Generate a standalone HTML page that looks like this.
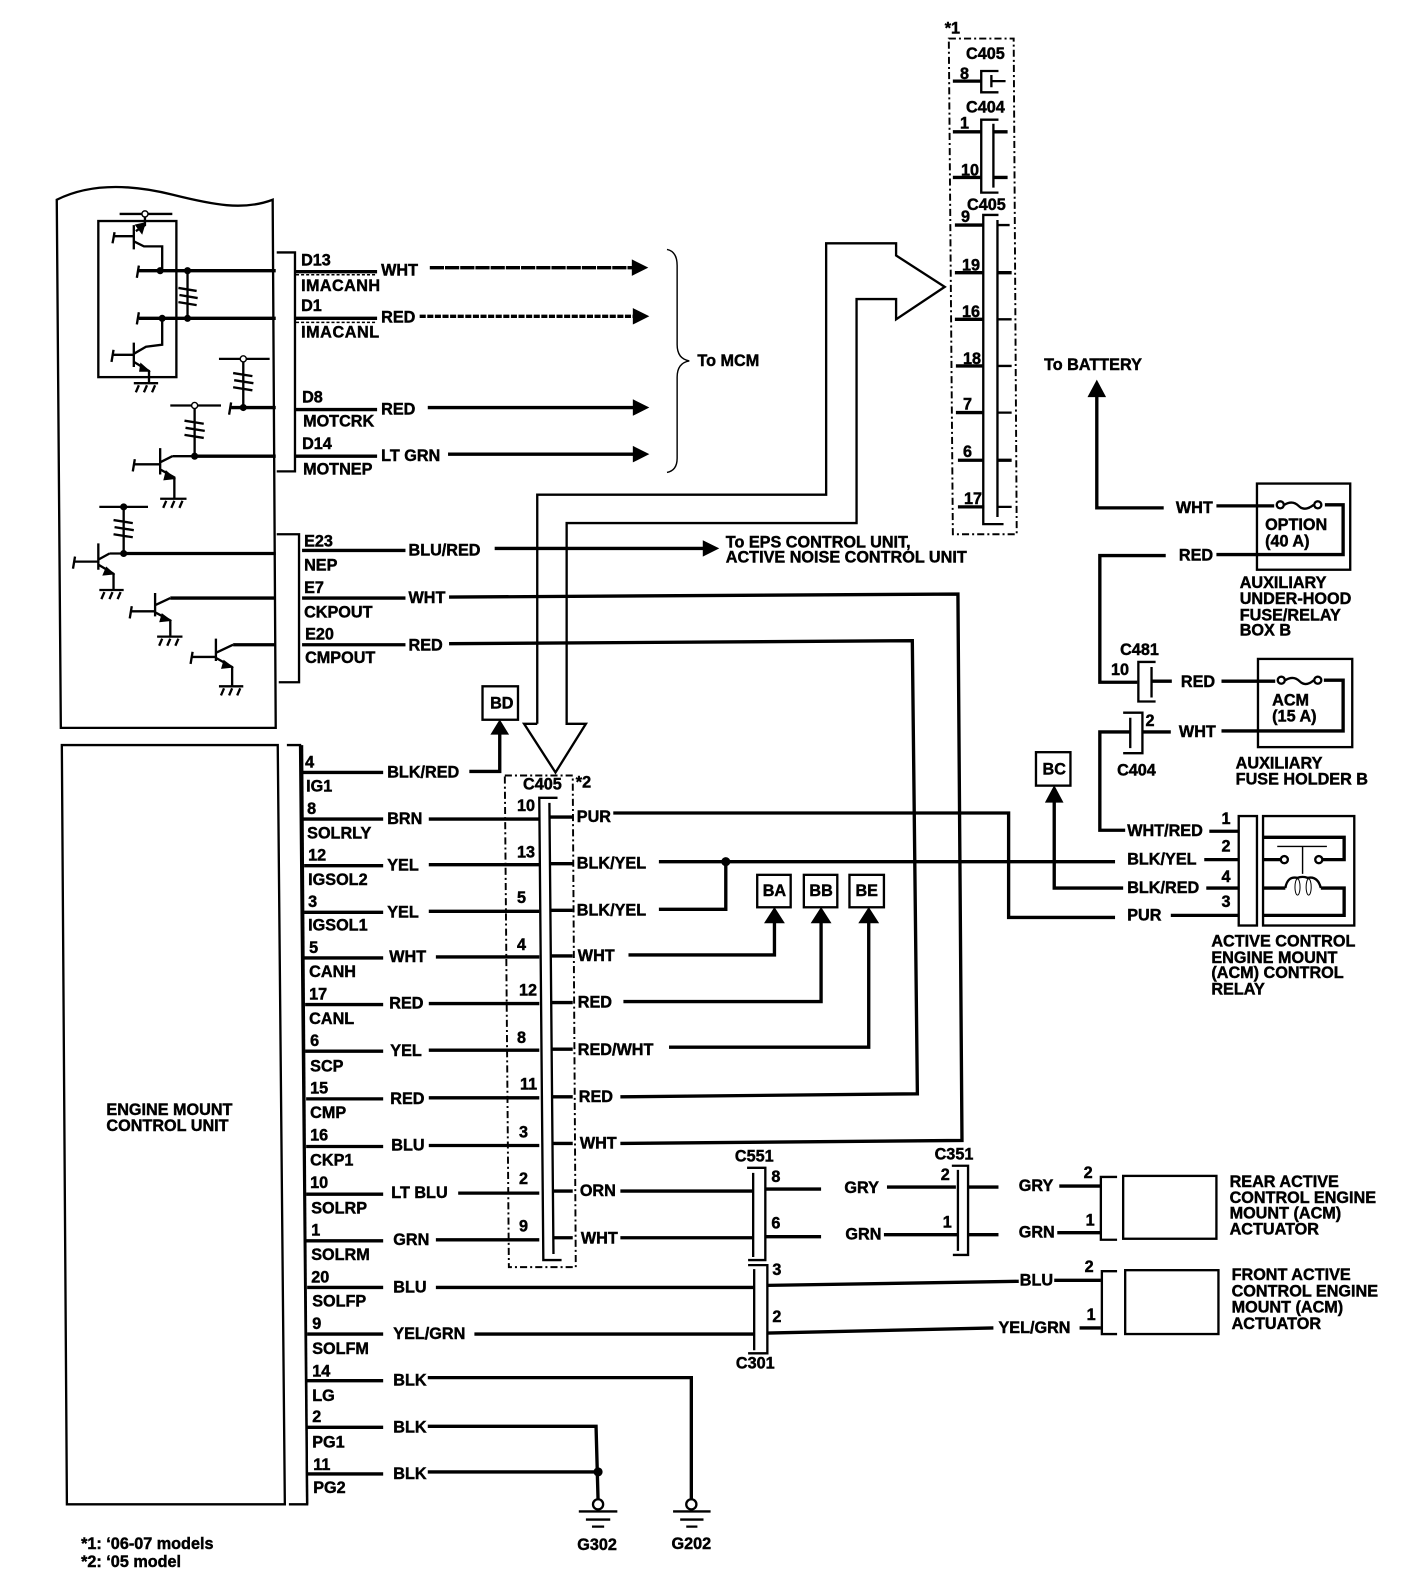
<!DOCTYPE html>
<html><head><meta charset="utf-8"><style>
html,body{margin:0;padding:0;background:#fff}
svg{display:block}
text{font-family:"Liberation Sans",sans-serif;font-weight:700;font-size:16px;fill:#000;stroke:#000;stroke-width:.45;dominant-baseline:central}
.m{text-anchor:middle}
path,rect,circle{fill:none;stroke:#000}
.t1{stroke-width:1.4}.t2{stroke-width:2.3}.t3{stroke-width:3.3}
.d{stroke-width:1.9;stroke-dasharray:7 3 2 3}
.f{fill:#000}.w{fill:#fff}
</style></head><body>
<svg width="1408" height="1588" viewBox="0 0 1389 1566.5" xmlns="http://www.w3.org/2000/svg">
<!-- module panels -->
<path class="t2" d="M56,197C90,180 130,182 170,192S240,208 269,197L272,718H60L56,197Z"/>
<path class="t2" d="M61,735H274L281,1484H66Z"/>
<path class="t2" d="M273,249H291V465H273M273,527H295V673H275M283,735H296L303,1484H285"/>
<!-- inner circuit -->
<rect class="t2" x="97" y="218" width="77" height="154"/>
<path class="t2" d="M118,211H170M143,214V222L134,228M132,222V246M113,233H132M132,238L142,243H160V267M160,314V340L144,342L132,349M132,338V362M112,350H132M132,357L147,366V378M132,378H156M137,380L134,387M145,380L142,387M153,380L150,387M113,229Q112,235 111,240M137,262Q136,268 135,274M137,308Q136,314 135,320M112,345Q111,351 110,357"/>
<path class="t3" d="M137,267H272M137,314H272M228,402H272M192,450H272M122,546H272M168,590H272M230,636H272"/>
<path class="t2" d="M185,267V314M176,284L194,287M177,291L195,294M176,298L194,301"/>
<circle class="w t1" cx="143" cy="211" r="3"/>
<circle class="f" cx="158" cy="267" r="3"/><circle class="f" cx="185" cy="267" r="3"/><circle class="f" cx="160" cy="314" r="3"/><circle class="f" cx="185" cy="314" r="3"/>
<path class="t2" d="M216,354H266M240,357V402M230,368L249,371M231,375L250,378M230,382L249,385M228,397Q227,403 226,409"/>
<circle class="w t1" cx="240" cy="354" r="3"/><circle class="f" cx="240" cy="402" r="3"/>
<path class="t2" d="M168,400H218M192,403V450M182,415L201,418M183,422L202,425M182,429L201,432M170,450H192M170,450L158,456M158,442V468M133,458H158M133,453Q132,459 131,465M158,463L172,471V492M158,492H184M164,494L161,501M172,494L169,501M180,494L177,501"/>
<circle class="w t1" cx="192" cy="400" r="3"/><circle class="f" cx="192" cy="450" r="3"/>
<path class="t2" d="M98,500H146M122,500V546M112,513L131,516M113,520L132,523M112,527L131,530M108,546H122M108,546L97,552M97,536V562M74,554H97M74,549Q73,555 72,561M97,557L112,566V582M98,582H122M103,584L100,591M111,584L108,591M119,584L116,591"/>
<circle class="f" cx="122" cy="500" r="3"/><circle class="f" cx="122" cy="546" r="3"/>
<path class="t2" d="M168,590L153,597M153,585V608M130,603H153M130,598Q129,604 128,610M153,604L168,612V628M155,628H180M160,630L157,637M168,630L165,637M176,630L173,637"/>
<path class="t2" d="M230,636L213,644M213,630V652M190,648H213M190,643Q189,649 188,655M213,649L229,658V677M216,677H240M221,679L218,686M229,679L226,686M237,679L234,686"/>
<path class="f t1" d="M134,222L143,220L140,230ZM139,359L147,366L138,366ZM164,465L172,472L162,473ZM105,560L112,566L102,567ZM160,606L168,612L158,613ZM221,652L229,658L219,659Z"/>
<!-- top wires -->
<path class="t3" d="M292,268H372M292,314H372M292,404H372M292,450H372"/>
<path class="t1" d="M292,271H372" stroke-dasharray="3 2"/>
<path class="t1" d="M292,318H372" stroke-dasharray="3 2"/>
<path class="t3" d="M424,264H625" stroke-dasharray="14 1"/>
<path class="t3" d="M414,312H625" stroke-dasharray="6 1.5"/>
<path class="t3" d="M422,402H625M442,448H628"/>
<path class="f t1" d="M624,257L638,264L624,271ZM625,305L639,312L625,319ZM625,395L639,402L625,409ZM625,441L639,448L625,455Z"/>
<path class="t1" d="M658,246Q668,248 668,262V340Q668,354 680,356Q668,358 668,372V452Q668,464 658,466"/>
<text x="297" y="257">D13</text><text x="297" y="282" textLength="78">IMACANH</text><text x="297" y="302">D1</text><text x="297" y="328" textLength="77">IMACANL</text>
<text x="298" y="392">D8</text><text x="299" y="416">MOTCRK</text><text x="298" y="438">D14</text><text x="299" y="463">MOTNEP</text>
<text x="376" y="267">WHT</text><text x="376" y="313">RED</text><text x="376" y="404">RED</text><text x="376" y="450">LT GRN</text>
<text x="688" y="356">To MCM</text>
<!-- E wires -->
<path class="t3" d="M298,543H400M298,590H400M298,636H400M488,541H695"/>
<path class="t3" d="M443,589L945,586L949,1125L612,1128M443,635L900,632L905,1079L612,1082"/>
<path class="f t1" d="M694,534L708,541L694,548Z"/>
<text x="300" y="534">E23</text><text x="300" y="558">NEP</text><text x="300" y="580">E7</text><text x="300" y="604">CKPOUT</text><text x="301" y="626">E20</text><text x="301" y="649">CMPOUT</text>
<text x="403" y="543">BLU/RED</text><text x="403" y="590">WHT</text><text x="403" y="637">RED</text>
<text x="716" y="535">To EPS CONTROL UNIT,</text><text x="716" y="550">ACTIVE NOISE CONTROL UNIT</text>
<!-- hollow arrows -->
<path class="t2" d="M530,714V488H815V240H884V252L932,283L884,315V295H845V516H559V714H578L548,762L517,714H530"/>
<!-- lower left wires -->
<path class="t3" d="M298,762H378M463,761H493V720M299,808H378M423,808H532M300,854H378M423,853H532M300,900H378M423,899H532M300,945H378M430,944H532M301,991H378M423,990H532M301,1037H378M423,1036H532M302,1084H378M423,1083H532M302,1131H378M423,1130H532M302,1178H378M452,1177H532M302,1224H378M430,1223H532M303,1270H378M430,1270H744M303,1316H378M468,1316H744M303,1362H378M422,1359H682V1480M303,1408H378M422,1407H588L590,1480M303,1454H378M422,1452H590"/>
<path class="t2" d="M298,735L303,1484"/>
<text x="301" y="752">4</text><text x="302" y="776">IG1</text><text x="303" y="798">8</text><text x="303" y="822">SOLRLY</text><text x="304" y="844">12</text><text x="304" y="868">IGSOL2</text><text x="304" y="890">3</text><text x="304" y="913">IGSOL1</text><text x="305" y="935">5</text><text x="305" y="959">CANH</text><text x="305" y="981">17</text><text x="305" y="1005">CANL</text><text x="306" y="1027">6</text><text x="306" y="1052">SCP</text><text x="306" y="1074">15</text><text x="306" y="1098">CMP</text><text x="306" y="1120">16</text><text x="306" y="1145">CKP1</text><text x="306" y="1167">10</text><text x="307" y="1192">SOLRP</text><text x="307" y="1214">1</text><text x="307" y="1238">SOLRM</text><text x="307" y="1260">20</text><text x="308" y="1284">SOLFP</text><text x="308" y="1306">9</text><text x="308" y="1331">SOLFM</text><text x="308" y="1353">14</text><text x="308" y="1377">LG</text><text x="308" y="1398">2</text><text x="308" y="1423">PG1</text><text x="309" y="1445">11</text><text x="309" y="1468">PG2</text>
<text x="382" y="762">BLK/RED</text><text x="382" y="808">BRN</text><text x="382" y="854">YEL</text><text x="382" y="900">YEL</text><text x="384" y="944">WHT</text><text x="384" y="990">RED</text><text x="385" y="1037">YEL</text><text x="385" y="1084">RED</text><text x="386" y="1130">BLU</text><text x="386" y="1177">LT BLU</text><text x="388" y="1223">GRN</text><text x="388" y="1270">BLU</text><text x="388" y="1316">YEL/GRN</text><text x="388" y="1362">BLK</text><text x="388" y="1408">BLK</text><text x="388" y="1454">BLK</text>
<text x="105" y="1095">ENGINE MOUNT</text><text x="105" y="1111">CONTROL UNIT</text>
<!-- C405 *2 -->
<path class="d" d="M498,765H565L568,1250H502Z"/>
<path class="t2" d="M550,787H532L536,1243H554M542,792L546,1237"/>
<path class="t3" d="M542,806H565M543,852H565M543,898H565M543,943H565M544,989H565M544,1035H565M544,1082H565M545,1128H565M545,1175H565M546,1221H565"/>
<text x="516" y="774">C405</text><text x="568" y="772">*2</text>
<text x="510" y="795">10</text><text x="510" y="841">13</text><text x="510" y="886">5</text><text x="510" y="932">4</text><text x="512" y="977">12</text><text x="510" y="1024">8</text><text x="513" y="1070">11</text><text x="512" y="1117">3</text><text x="512" y="1163">2</text><text x="512" y="1210">9</text>
<text x="569" y="806">PUR</text><text x="569" y="852">BLK/YEL</text><text x="569" y="898">BLK/YEL</text><text x="570" y="943">WHT</text><text x="570" y="989">RED</text><text x="570" y="1036">RED/WHT</text><text x="571" y="1082">RED</text><text x="572" y="1128">WHT</text><text x="572" y="1175">ORN</text><text x="573" y="1222">WHT</text>
<!-- right wires -->
<path class="t3" d="M605,802H995V905H1100M1155,903H1222M650,850H1100M650,897H716V850M620,942H764V910M615,988H810V910M660,1033H857V910"/>
<circle class="f" cx="716" cy="850" r="4"/>
<path class="f t1" d="M755,910L764,896L773,910ZM801,910L810,896L819,910ZM848,910L857,896L866,910ZM1032,791L1040,776L1048,791ZM1074,391L1082,376L1090,391ZM485,724L493,711L501,724Z"/>
<rect class="t2" x="476" y="677" width="35" height="33"/><text class="m" x="495" y="694">BD</text>
<rect class="t2" x="747" y="863" width="33" height="32"/><text class="m" x="764" y="879">BA</text>
<rect class="t2" x="793" y="863" width="33" height="32"/><text class="m" x="810" y="879">BB</text>
<rect class="t2" x="838" y="863" width="34" height="32"/><text class="m" x="855" y="879">BE</text>
<rect class="t2" x="1022" y="742" width="34" height="33"/><text class="m" x="1040" y="759">BC</text>
<!-- C405 *1 -->
<path class="d" d="M936,38H1000L1003,527H940Z"/>
<text x="932" y="28">*1</text><text x="953" y="53">C405</text><text x="953" y="106">C404</text><text x="954" y="202">C405</text>
<path class="t2" d="M985,70H968V91H985M978,74V86M985,118H968V190H985M980,122V185M985,212H970V517H990M984,217V510"/>
<path class="t3" d="M940,80H968M940,130H968M940,175H968M942,222H970M942,269H970M942,315H970M943,361H970M943,407H970M945,454H970M945,500H971M980,130H994M980,175H994M984,269H998M984,454H998"/>
<path class="t2" d="M978,80H992M984,222H996M984,315H998M984,361H998M984,407H998M984,500H998"/>
<text x="947" y="73">8</text><text x="947" y="122">1</text><text x="948" y="168">10</text><text x="948" y="214">9</text><text x="949" y="262">19</text><text x="949" y="308">16</text><text x="950" y="354">18</text><text x="950" y="399">7</text><text x="950" y="446">6</text><text x="951" y="492">17</text>
<!-- right side power -->
<text x="1030" y="360">To BATTERY</text>
<path class="t3" d="M1082,385V501H1148M1200,499H1257M1307,498H1325V547H1200M1150,548H1085V673H1122"/>
<rect class="t2" x="1240" y="477" width="92" height="85"/>
<circle class="t2" cx="1263" cy="498" r="3.5"/><circle class="t2" cx="1300" cy="498" r="3.5"/><path class="t2" d="M1267,498Q1275,493 1281,499T1296,498"/>
<text x="1160" y="501">WHT</text><text x="1163" y="548">RED</text>
<text x="1248" y="518">OPTION</text><text x="1248" y="534">(40 A)</text>
<text x="1223" y="575">AUXILIARY</text><text x="1223" y="591">UNDER-HOOD</text><text x="1223" y="607">FUSE/RELAY</text><text x="1223" y="622">BOX B</text>
<text x="1105" y="641">C481</text><text x="1096" y="661">10</text>
<path class="t2" d="M1140,653H1123V692H1140M1136,658V688"/>
<path class="t3" d="M1136,672H1156M1205,672H1258M1306,671H1325V721H1205M1127,722H1155M1115,722H1085V819H1110M1040,790V876H1108M1193,820H1222M1188,848H1222M1190,876H1222"/>
<rect class="t2" x="1241" y="650" width="93" height="87"/>
<circle class="t2" cx="1264" cy="671" r="3.5"/><circle class="t2" cx="1300" cy="671" r="3.5"/><path class="t2" d="M1268,671Q1276,666 1282,672T1296,671"/>
<text x="1165" y="673">RED</text><text x="1163" y="722">WHT</text>
<text x="1255" y="691">ACM</text><text x="1255" y="707">(15 A)</text>
<path class="t2" d="M1108,703H1127V743H1108M1115,708V738"/>
<text x="1130" y="711">2</text><text x="1102" y="760">C404</text>
<text x="1219" y="753">AUXILIARY</text><text x="1219" y="769">FUSE HOLDER B</text>
<!-- relay -->
<text x="1112" y="820">WHT/RED</text><text x="1112" y="848">BLK/YEL</text><text x="1112" y="876">BLK/RED</text><text x="1112" y="903">PUR</text>
<text x="1205" y="808">1</text><text x="1205" y="835">2</text><text x="1205" y="865">4</text><text x="1205" y="890">3</text>
<rect class="t2" x="1222" y="805" width="18" height="108"/>
<rect class="t2" x="1246" y="805" width="90" height="108"/>
<path class="t3" d="M1246,826H1326V848H1305M1246,848H1263M1246,876H1268M1303,876H1326V903H1246"/>
<path class="t1" d="M1260,835H1309M1285,835V862"/>
<circle class="t2" cx="1267" cy="848" r="3.5"/><circle class="t2" cx="1301" cy="848" r="3.5"/>
<path class="t2" d="M1268,876Q1270,864 1280,866Q1285,864 1290,866Q1300,864 1303,876"/>
<ellipse cx="1280" cy="875" rx="2.5" ry="8" fill="none" stroke="#000"/><ellipse cx="1291" cy="875" rx="2.5" ry="8" fill="none" stroke="#000"/>
<text x="1195" y="929">ACTIVE CONTROL</text><text x="1195" y="945">ENGINE MOUNT</text><text x="1195" y="960">(ACM) CONTROL</text><text x="1195" y="976">RELAY</text>
<!-- C551 C351 C301 -->
<text x="725" y="1141">C551</text><text x="922" y="1139">C351</text><text x="726" y="1345">C301</text>
<path class="t2" d="M737,1152H755V1243H738M743,1157V1240M939,1150H955V1238H940M945,1154V1234M738,1248H757V1335H738M744,1252V1332"/>
<text x="761" y="1161">8</text><text x="761" y="1207">6</text><text x="762" y="1253">3</text><text x="762" y="1299">2</text><text x="928" y="1159">2</text><text x="930" y="1206">1</text>
<path class="t3" d="M612,1175H742M755,1173H810M875,1171H943M955,1171H985M1045,1170H1086M612,1221H742M755,1220H810M872,1218H945M955,1218H985M1043,1216H1086M757,1268L1005,1264M1040,1263H1086M757,1315L980,1310M1065,1310H1086"/>
<text x="833" y="1172">GRY</text><text x="834" y="1218">GRN</text><text x="1005" y="1170">GRY</text><text x="1005" y="1216">GRN</text><text x="1006" y="1263">BLU</text><text x="985" y="1310">YEL/GRN</text>
<text x="1069" y="1157">2</text><text x="1071" y="1204">1</text><text x="1070" y="1250">2</text><text x="1072" y="1297">1</text>
<path class="t2" d="M1102,1161H1086V1223H1102M1102,1254H1087V1316H1102"/>
<rect class="t2" x="1108" y="1160" width="92" height="62"/>
<rect class="t2" x="1110" y="1253" width="92" height="63"/>
<text x="1213" y="1166">REAR ACTIVE</text><text x="1213" y="1182">CONTROL ENGINE</text><text x="1213" y="1197">MOUNT (ACM)</text><text x="1213" y="1213">ACTUATOR</text>
<text x="1215" y="1258">FRONT ACTIVE</text><text x="1215" y="1274">CONTROL ENGINE</text><text x="1215" y="1290">MOUNT (ACM)</text><text x="1215" y="1306">ACTUATOR</text>
<!-- grounds -->
<circle class="f" cx="590" cy="1452" r="4"/>
<circle class="t2 w" cx="590" cy="1484" r="5"/><circle class="t2 w" cx="682" cy="1484" r="5"/>
<path class="t2" d="M571,1491H609M578,1499H602M584,1506H596M664,1491H701M671,1499H694M677,1506H688"/>
<text class="m" x="589" y="1524">G302</text><text class="m" x="682" y="1523">G202</text>
<text x="80" y="1523">*1: ‘06-07 models</text><text x="80" y="1541">*2: ‘05 model</text>
</svg>
</body></html>
